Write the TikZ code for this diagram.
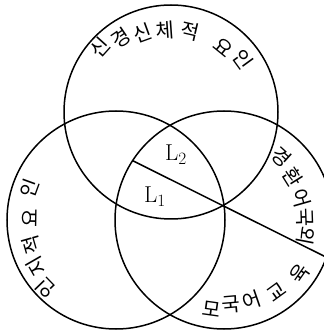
\documentclass[tikz,border=0pt]{standalone}
\usepackage{fontspec}
\newfontfamily\krfont{Noto Sans CJK KR}
\begin{document}
\begin{tikzpicture}[x=1pt,y=1pt,
  ring/.style={line width=1.5pt},
  hangul/.style={font=\krfont\fontsize{20}{20}\selectfont,inner sep=0pt},
  region/.style={font=\fontsize{23}{23}\selectfont,inner sep=0pt}]
  \useasboundingbox (0,0) rectangle (324,335);
  \clip (0,0) rectangle (324,335);
  % circle centres
  \coordinate (ctop) at (171,223);
  \coordinate (cleft) at (116,115);
  \coordinate (cright) at (224,115);
  \draw[ring] (ctop) circle[radius=107];
  \draw[ring] (cleft) circle[radius=109];
  \draw[ring] (cright) circle[radius=109];

  % line splitting the right circle
  \path (cright) ++(147:109) coordinate (cutA);
  \path (cright) ++(-20:109) coordinate (cutB);
  \draw[ring] (cutA) -- (cutB);

  % top circle label, clockwise
  \foreach \a/\r/\ch [count=\i] in {138/96/신,124/89/경,110/84/신,94/82/체,77/83/적,51/83/요,36/89/인}
    \path (ctop) ++(\a:\r) node[hangul,rotate=\a-90] (tl\i) {\ch};

  % left circle label, clockwise
  \foreach \a/\r/\ch [count=\i] in {224/98/인,210/92/지,196/88/적,179/86/요,160/92/인}
    \path (cleft) ++(\a:\r) node[hangul,rotate=\a-90] (ll\i) {\ch};

  % right circle labels, counter-clockwise
  \foreach \a/\r/\ch [count=\i] in {-98/90/모,-85/85/국,-71/85/어,-54/89/교,-35/93/육}
    \path (cright) ++(\a:\r) node[hangul,rotate=\a+90] (bl\i) {\ch};
  % glyph tops turned outward here
  \foreach \a/\r/\ch [count=\i] in {-11/84/외,2/81/국,16/80/어,32/81/환,48/85/경}
    \path (cright) ++(\a:\r) node[hangul,rotate=\a-90] (rl\i) {\ch};

  % regions
  \node[region] (L2) at (176,180) {L$_2$};
  \node[region] (L1) at (155,138) {L$_1$};
\end{tikzpicture}
\end{document}
